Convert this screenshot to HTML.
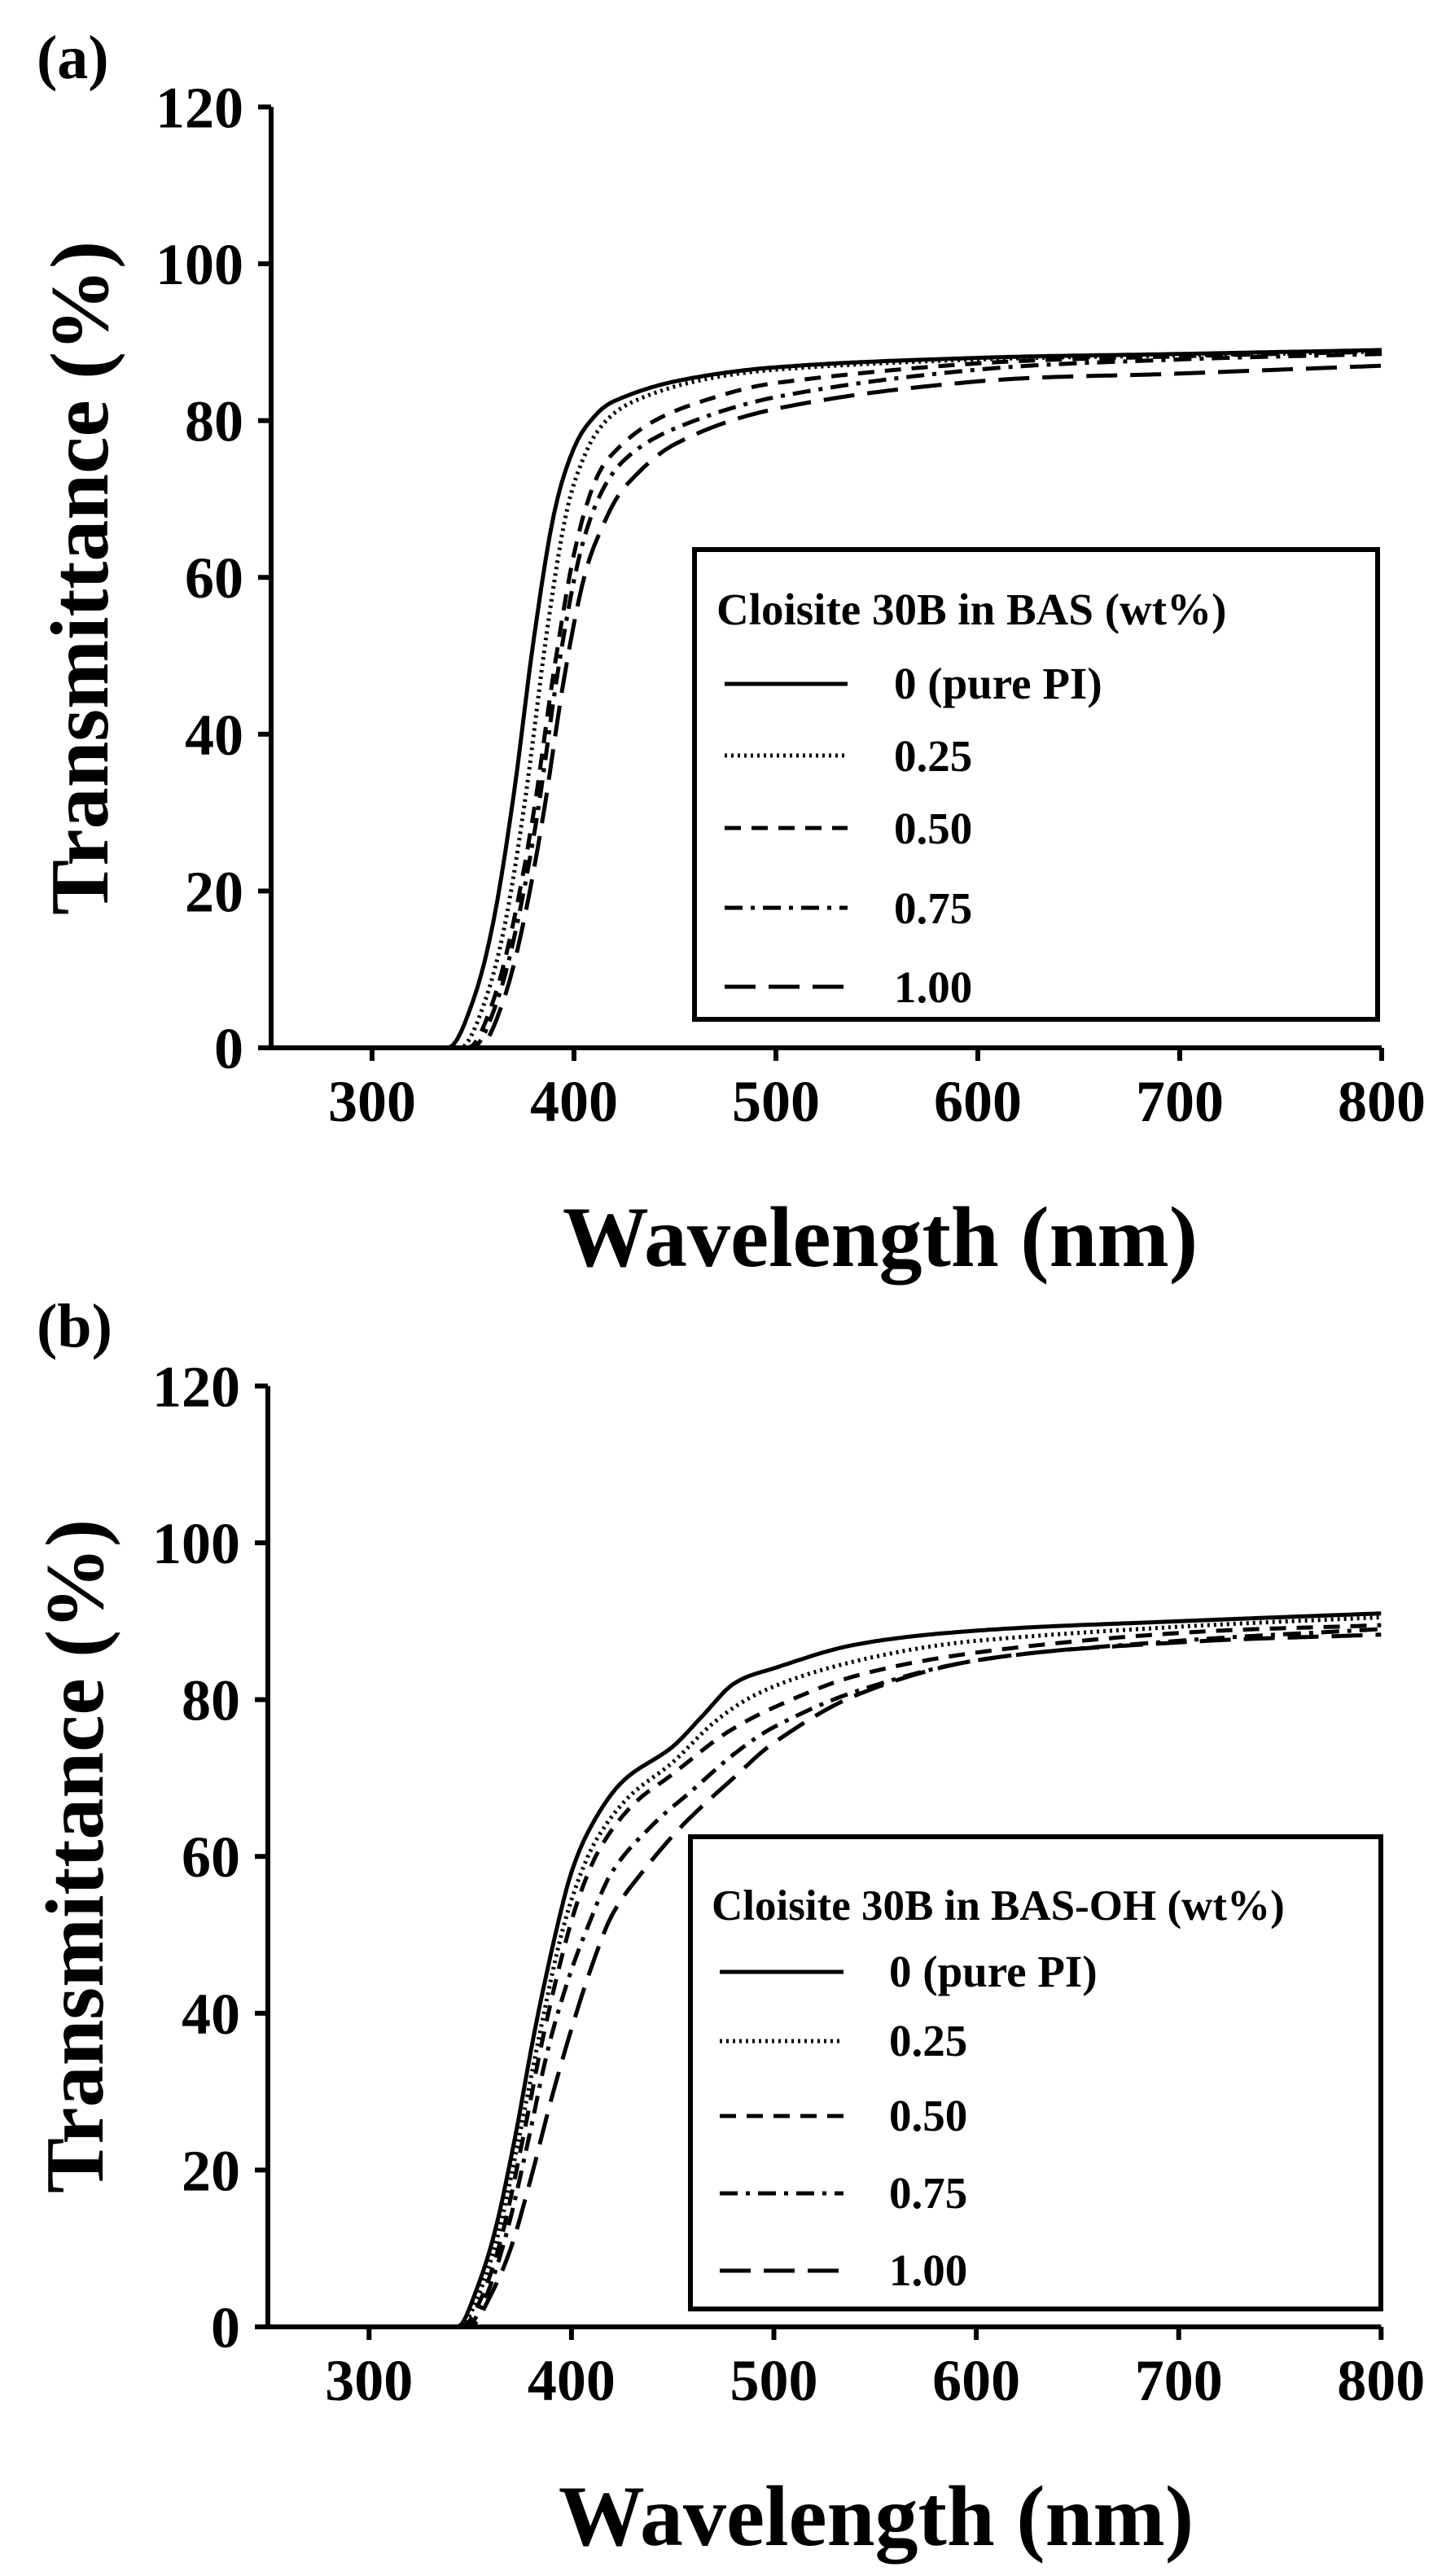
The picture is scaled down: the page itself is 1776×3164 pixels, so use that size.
<!DOCTYPE html>
<html><head><meta charset="utf-8"><style>
html,body{margin:0;padding:0;background:#fff;}
svg{display:block;}
text{font-family:"Liberation Serif",serif;font-weight:bold;fill:#000;}
</style></head><body>
<svg id="s" width="1776" height="3164" viewBox="0 0 1776 3164" xmlns="http://www.w3.org/2000/svg">
<rect width="1776" height="3164" fill="#fff"/>
<!-- Panel a -->
<g id="pa">
<text x="45" y="96" font-size="76">(a)</text>
<text transform="translate(132,710) rotate(-90)" text-anchor="middle" font-size="102">Transmittance (%)</text>
<text x="1081" y="1555" text-anchor="middle" font-size="106">Wavelength (nm)</text>
<rect x="853" y="675" width="839" height="577" fill="none" stroke="#000" stroke-width="6"/>
<text x="880" y="767" font-size="55">Cloisite 30B in BAS (wt%)</text>
<text x="1098" y="858" font-size="55">0 (pure PI)</text>
<text x="1098" y="947" font-size="55">0.25</text>
<text x="1098" y="1036" font-size="55">0.50</text>
<text x="1098" y="1134" font-size="55">0.75</text>
<text x="1098" y="1231" font-size="55">1.00</text>
</g>
<!-- Panel b -->
<g id="pb">
<text x="45" y="1654" font-size="76">(b)</text>
<text transform="translate(126,2280) rotate(-90)" text-anchor="middle" font-size="102">Transmittance (%)</text>
<text x="1076" y="3126" text-anchor="middle" font-size="106">Wavelength (nm)</text>
<rect x="848" y="2256" width="848" height="580" fill="none" stroke="#000" stroke-width="6"/>
<text x="874" y="2358" font-size="53">Cloisite 30B in BAS-OH (wt%)</text>
<text x="1092" y="2440" font-size="55">0 (pure PI)</text>
<text x="1092" y="2525" font-size="55">0.25</text>
<text x="1092" y="2617" font-size="55">0.50</text>
<text x="1092" y="2712" font-size="55">0.75</text>
<text x="1092" y="2807" font-size="55">1.00</text>
</g>
<g id="dyn"></g>
</svg>
<script>
var NS="http://www.w3.org/2000/svg";
var dyn=document.getElementById("dyn");
function el(t,a,txt){var e=document.createElementNS(NS,t);for(var k in a)e.setAttribute(k,a[k]);if(txt!==undefined)e.textContent=txt;dyn.appendChild(e);return e;}
var dashes=["none","3 5","20 13","22 10 5 10","38 16"];
function panel(P){
  var X=function(v){return P.ax+(v-250)*P.sx;};
  var Y=function(v){return P.y0-v*P.sy;};
  // axes
  el("line",{x1:P.ax,y1:Y(120),x2:P.ax,y2:P.y0,stroke:"#000","stroke-width":6});
  el("line",{x1:P.ax,y1:P.y0,x2:X(800),y2:P.y0,stroke:"#000","stroke-width":6});
  for(var v=0;v<=120;v+=20){
    el("line",{x1:P.ax-16,y1:Y(v),x2:P.ax,y2:Y(v),stroke:"#000","stroke-width":6});
    el("text",{x:P.ax-34,y:Y(v)+25,"text-anchor":"end","font-size":72},String(v));
  }
  for(var w=300;w<=800;w+=100){
    el("line",{x1:X(w),y1:P.y0,x2:X(w),y2:P.y0+16,stroke:"#000","stroke-width":6});
    el("text",{x:X(w),y:P.y0+90,"text-anchor":"middle","font-size":72},String(w));
  }
  // series
  P.series.forEach(function(s,i){
    var pts=[];
    for(var w=252;w<=800;w+=2){pts.push(X(w).toFixed(1)+","+Y(interp(s,w)).toFixed(1));}
    var a={points:pts.join(" "),fill:"none",stroke:"#000","stroke-width":5,"stroke-linejoin":"round"};
    if(dashes[i]!=="none")a["stroke-dasharray"]=dashes[i];
    el("polyline",a);
    var ly=P.leg[i];
    var la={x1:P.lx1,y1:ly,x2:P.lx2,y2:ly,stroke:"#000","stroke-width":5};
    if(dashes[i]!=="none")la["stroke-dasharray"]=dashes[i];
    el("line",la);
  });
}
function interp(s,w){
  if(w<=s[0][0])return s[0][1];
  for(var i=0;i<s.length-1;i++){
    if(w<=s[i+1][0]){
      var p0=s[Math.max(i-1,0)],p1=s[i],p2=s[i+1],p3=s[Math.min(i+2,s.length-1)];
      var t=(w-p1[0])/(p2[0]-p1[0]);
      var m1=(p2[1]-p0[1])/(p2[0]-p0[0])*(p2[0]-p1[0]);
      var m2=(p3[1]-p1[1])/(p3[0]-p1[0])*(p2[0]-p1[0]);
      if(i===0)m1=0;
      var t2=t*t,t3=t2*t;
      var v=(2*t3-3*t2+1)*p1[1]+(t3-2*t2+t)*m1+(-2*t3+3*t2)*p2[1]+(t3-t2)*m2;
      return Math.max(0,v);
    }
  }
  return s[s.length-1][1];
}
panel({ax:333,y0:1287,sx:2.48,sy:9.63,lx1:890,lx2:1041,leg:[840,928,1017,1115,1212],
series:[
 [[250,0],[338,0],[350,6],[360,16],[370,32],[380,52],[390,68],[400,76.5],[410,80.5],[420,82.5],[450,85],[500,86.8],[600,88],[700,88.5],[800,89]],
 [[250,0],[344,0],[356,6],[366,16],[376,32],[386,52],[396,68],[406,76],[416,80],[430,82.5],[460,85],[500,86.5],[600,87.8],[700,88.3],[800,88.8]],
 [[250,0],[348,0],[360,6],[370,16],[380,30],[390,48],[400,63],[410,72],[420,76],[440,80],[470,83],[500,84.8],[600,87.3],[700,88.2],[800,88.8]],
 [[250,0],[350,0],[362,6],[372,16],[382,30],[392,48],[402,62],[412,70],[425,75],[450,79],[500,83],[600,86.5],[700,87.8],[800,88.5]],
 [[250,0],[353,0],[365,6],[375,16],[385,30],[395,47],[405,60],[415,67],[425,71.5],[450,77],[500,81.5],[600,85],[700,86],[800,87]]
]});
panel({ax:329,y0:2858,sx:2.486,sy:9.63,lx1:884,lx2:1036,leg:[2422,2507,2599,2694,2789],
series:[
 [[250,0],[344,0],[352,4],[362,12],[372,24],[382,38],[392,50],[400,58],[410,64],[425,69.5],[450,74],[465,78],[480,82],[500,84],[540,87],[600,88.8],[700,90],[800,91]],
 [[250,0],[345,0],[354,4],[364,12],[374,24],[384,37],[394,49],[402,56],[412,62],[428,67.5],[450,72],[470,77],[490,80.5],[520,83.5],[560,86],[600,87.5],[700,89.3],[800,90.5]],
 [[250,0],[346,0],[356,4],[366,12],[376,24],[386,37],[396,48],[404,55],[414,61],[430,66.5],[450,70.5],[475,75.5],[500,79],[540,83],[600,86],[700,88.5],[800,89.5]],
 [[250,0],[348,0],[358,4],[368,12],[378,23],[388,35],[398,44],[408,51],[420,58],[440,64],[460,68.5],[480,73],[500,76.5],[540,81],[600,85],[700,87.5],[800,89]],
 [[250,0],[350,0],[360,4],[370,10],[380,19],[390,29],[400,38],[410,46],[420,52.5],[435,58],[455,64],[480,70],[500,74.5],[540,80.5],[600,85],[700,87.3],[800,88.3]]
]});
</script>
</body></html>
